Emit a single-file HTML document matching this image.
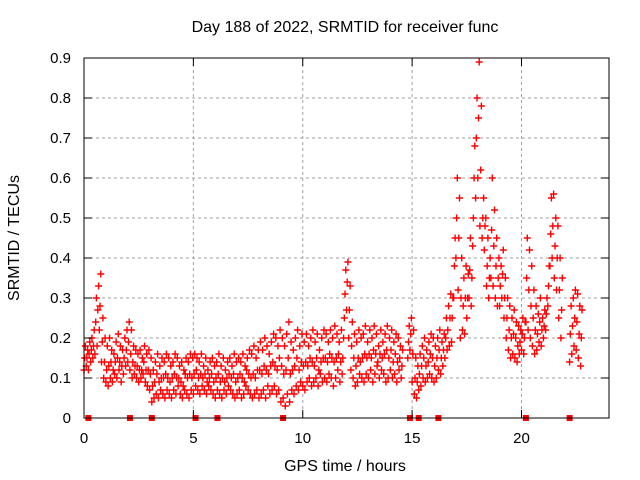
<!DOCTYPE html>
<html><head><meta charset="utf-8"><style>
body{margin:0;background:#fff}
svg{font-family:"Liberation Sans",sans-serif;display:block}
</style></head><body>
<svg id="chart" width="640" height="480" viewBox="0 0 640 480">
<text x="345" y="32" font-size="16" text-anchor="middle">Day 188 of 2022, SRMTID for receiver func</text>
<text x="345" y="471" font-size="16" text-anchor="middle">GPS time / hours</text>
<text transform="translate(19,238) rotate(-90)" font-size="16" text-anchor="middle">SRMTID / TECUs</text>
<g id="grid"></g>
<g id="pts"></g>
<rect x="84" y="58" width="525" height="360" fill="none" stroke="#000" stroke-width="1"/>
<g id="ticks"></g>
</svg>
<script>
const xTicks=[0,5,10,15,20];
const yTicks=[0,0.1,0.2,0.3,0.4,0.5,0.6,0.7,0.8,0.9];
const yTickLabels=["0","0.1","0.2","0.3","0.4","0.5","0.6","0.7","0.8","0.9"];
const startHour=0, stepHour=0.1;
const hiVals=[.18,.17,.19,.20,.22,.30,.33,.36,.25,.20,
.18,.20,.17,.16,.19,.21,.18,.17,.20,.22,
.24,.22,.18,.17,.16,.17,.15,.18,.16,.17,
.15,.12,.14,.16,.13,.15,.14,.16,.15,.13,
.14,.16,.15,.13,.14,.12,.15,.14,.16,.15,
.16,.15,.14,.16,.13,.15,.12,.14,.15,.13,
.14,.16,.13,.15,.12,.14,.15,.13,.16,.14,
.15,.14,.16,.13,.15,.17,.16,.18,.15,.17,
.19,.17,.20,.18,.16,.19,.21,.20,.18,.22,
.20,.18,.21,.24,.19,.17,.20,.22,.18,.21,
.19,.21,.18,.20,.22,.19,.21,.17,.20,.22,
.21,.19,.22,.20,.23,.21,.19,.22,.20,.37,
.39,.33,.24,.21,.19,.22,.20,.21,.23,.19,
.22,.20,.23,.21,.18,.22,.19,.21,.23,.20,
.22,.19,.21,.20,.18,.17,null,null,.23,.25,
.22,.15,.13,.16,.18,.20,.17,.19,.21,.20,
.18,.20,.22,.19,.21,.25,.28,.31,.30,.45,
.60,.55,.40,.35,.38,.36,.45,.43,.68,.80,
.89,.78,.55,.50,.45,.40,.60,.52,.45,.40,
.38,.42,.35,.30,.28,.25,.27,.24,.23,.22,
.25,.24,.45,.42,.38,.32,.28,.26,.30,.25,
.27,.30,.38,.55,.56,.50,.48,.40,.35,null,
null,null,.28,.30,.32,.31,.28,.27,null];
const midVals=[.15,.15,.16,.17,.18,.24,.27,.28,.19,.14,
.12,.13,.14,.12,.14,.15,.14,.13,.15,.17,
.19,.16,.14,.13,.13,.12,.12,.14,.12,.12,
.11,.08,.09,.11,.09,.10,.10,.11,.10,.09,
.10,.11,.10,.10,.09,.08,.11,.10,.11,.10,
.11,.12,.10,.11,.10,.11,.09,.10,.11,.09,
.10,.11,.09,.10,.09,.10,.11,.10,.11,.09,
.10,.11,.10,.09,.12,.11,.10,.11,.10,.12,
.12,.11,.13,.12,.11,.13,.14,.13,.12,.15,
.13,.11,.12,.15,.11,.12,.13,.15,.12,.14,
.13,.14,.13,.15,.14,.13,.15,.12,.14,.15,
.15,.14,.16,.15,.14,.15,.16,.14,.15,.31,
.34,.27,.18,.15,.13,.15,.14,.15,.16,.15,
.16,.15,.17,.16,.14,.16,.15,.16,.17,.15,
.17,.14,.16,.14,.15,.13,null,null,.19,.21,
.16,.10,.09,.11,.13,.15,.13,.14,.16,.15,
.13,.15,.17,.15,.17,.20,.22,.25,.25,.38,
.50,.45,.30,.28,.30,.30,.37,.35,.60,.70,
.75,.62,.50,.48,.38,.35,.47,.43,.38,.35,
.33,.36,.30,.25,.22,.20,.21,.20,.18,.19,
.21,.20,.35,.32,.28,.25,.22,.21,.24,.22,
.23,.26,.33,.46,.48,.43,.40,.32,.27,null,
null,null,.21,.23,.25,.24,.21,.20,null];
const loVals=[.12,.13,.12,.14,.15,.16,.18,.22,.14,.10,
.09,.08,.10,.09,.11,.10,.12,.09,.11,.13,
.14,.12,.10,.11,.10,.09,.10,.11,.09,.08,
.07,.04,.05,.06,.05,.07,.06,.05,.07,.06,
.05,.07,.06,.08,.06,.05,.07,.06,.05,.07,
.06,.08,.07,.06,.08,.07,.06,.08,.07,.06,
.05,.07,.06,.05,.07,.06,.08,.07,.06,.05,
.06,.07,.05,.06,.08,.07,.06,.05,.06,.07,
.05,.06,.07,.05,.08,.06,.07,.08,.06,.07,
.04,.05,.03,.06,.04,.07,.06,.08,.07,.09,
.08,.07,.09,.10,.08,.09,.10,.08,.11,.09,
.10,.09,.11,.10,.08,.10,.12,.09,.11,.25,
.27,.20,.12,.10,.08,.09,.11,.10,.09,.11,
.10,.12,.09,.11,.13,.10,.12,.11,.09,.10,
.12,.10,.11,.09,.12,.10,null,null,.15,.17,
.09,.06,.05,.07,.08,.10,.09,.10,.11,.10,
.09,.10,.12,.11,.13,.15,.17,.18,.19,.30,
.40,.32,.20,.22,.21,.25,.30,.28,.50,.55,
.60,.48,.45,.42,.33,.30,.35,.33,.30,.28,
.28,.30,.25,.20,.17,.15,.16,.15,.14,.16,
.17,.16,.24,.22,.20,.18,.16,.17,.19,.18,
.20,.22,.28,.38,.40,.35,.32,.25,.20,null,
null,null,.14,.16,.18,.17,.15,.13,null];
const zeroTimes=[0.2,2.1,3.1,5.1,6.1,9.1,14.9,15.3,16.2,20.2,22.2];

const NS="http://www.w3.org/2000/svg";
const X0=84,X1=609,Y0=418,Y1=58,XMAX=24,YMAX=0.9;
function xs(t){return X0+(X1-X0)*t/XMAX;}
function ys(v){return Y0-(Y0-Y1)*v/YMAX;}
const grid=document.getElementById('grid'),ticks=document.getElementById('ticks'),pts=document.getElementById('pts');
function mk(tag,attrs,parent){const e=document.createElementNS(NS,tag);for(const k in attrs)e.setAttribute(k,attrs[k]);parent.appendChild(e);return e;}
yTicks.forEach((v,i)=>{
  const y=ys(v);
  if(v>0){const g=mk('line',{x1:X0,x2:X1,y1:y,y2:y,stroke:'#a0a0a0','stroke-dasharray':'3,3'},grid);
  
  }
  mk('line',{x1:X0,x2:X0+8,y1:y,y2:y,stroke:'#000'},ticks);
  mk('line',{x1:X1-8,x2:X1,y1:y,y2:y,stroke:'#000'},ticks);
  const t=mk('text',{x:X0-13,y:y+5,'font-size':15,'text-anchor':'end'},ticks);
  t.textContent=yTickLabels[i];
  
  
});
xTicks.forEach(v=>{
  const x=xs(v);
  if(v>0){const g=mk('line',{x1:x,x2:x,y1:Y1,y2:Y0,stroke:'#a0a0a0','stroke-dasharray':'3,3'},grid);
  
  }
  mk('line',{x1:x,x2:x,y1:Y0,y2:Y0-8,stroke:'#000'},ticks);
  mk('line',{x1:x,x2:x,y1:Y1,y2:Y1+8,stroke:'#000'},ticks);
  const t=mk('text',{x:x,y:443,'font-size':15,'text-anchor':'middle'},ticks);
  t.textContent=String(v);
  
  
});
let d='';
function addSeries(vals,off){
  vals.forEach((v,i)=>{
    if(v===null)return;
    const x=xs(startHour+i*stepHour+off),y=ys(v);
    d+=`M${(x-3.5).toFixed(1)} ${y.toFixed(1)}h7M${x.toFixed(1)} ${(y-3.5).toFixed(1)}v7`;
  });
}
addSeries(loVals,0);addSeries(midVals,0.033);addSeries(hiVals,0.066);
const p=mk('path',{d:d,stroke:'#ff0000','stroke-width':1.4,fill:'none'},pts);


zeroTimes.forEach(t=>{
  const r=mk('rect',{x:xs(t)-3,y:Y0-3,width:6,height:6,fill:'#ff0000'},pts);
  
  
});
</script>
</body></html>
